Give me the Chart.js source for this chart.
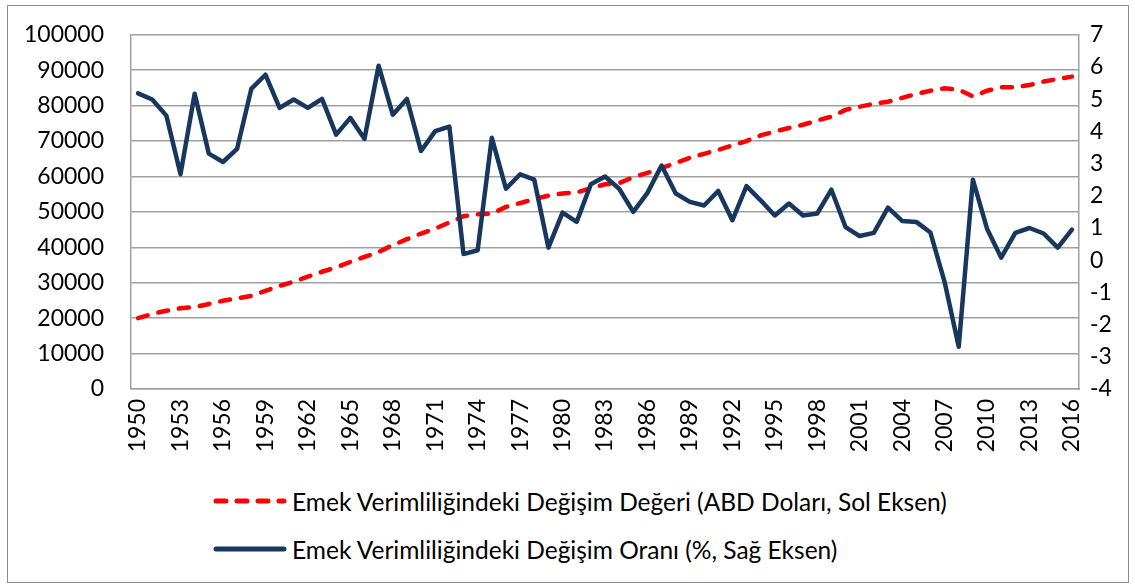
<!DOCTYPE html>
<html>
<head>
<meta charset="utf-8">
<script src="https://cdn.jsdelivr.net/npm/chart.js@4"></script>
<style>
  html, body { margin: 0; padding: 0; background: #fff; }
  #wrap { position: relative; width: 1135px; height: 587px; font-family: Lato, sans-serif; overflow: hidden; }
  #frame { position: absolute; left: 7px; top: 5px; width: 1120px; height: 576px; border: 1px solid #8c8c8c; }
  #chart { position: absolute; left: 0; top: -6px; }
  .leg { position: absolute; left: 213px; height: 30px; display: flex; align-items: center; font-size: 24.5px; color: #000; white-space: nowrap; }
  .leg svg { margin-right: 5px; }
</style>
</head>
<body>
<div id="wrap">
  <div id="frame"></div>
  <canvas id="chart" width="1135" height="476"></canvas>
  <div class="leg" style="top:486px">
    <svg width="74" height="10"><line x1="3" y1="5" x2="71" y2="5" stroke="#ff0000" stroke-width="5" stroke-linecap="round" stroke-dasharray="10 11"/></svg>
    <span>Emek Verimliliğindeki Değişim Değeri (ABD Doları, Sol Eksen)</span>
  </div>
  <div class="leg" style="top:534px">
    <svg width="74" height="10"><line x1="3" y1="5" x2="71" y2="5" stroke="#17375e" stroke-width="5" stroke-linecap="round"/></svg>
    <span>Emek Verimliliğindeki Değişim Oranı (%, Sağ Eksen)</span>
  </div>
</div>
<script>
const years = [];
for (let y = 1950; y <= 2016; y++) years.push(String(y));

// Emek verimliliğindeki değişim değeri (ABD doları, sol eksen)
const levelUSD = [
  20000, 21200, 22100, 22800, 23100, 24000, 24900, 25600, 26300, 27700,
  29100, 30300, 31700, 33100, 34300, 35900, 37300, 38700, 40600, 42300,
  43900, 45300, 47000, 48800, 49300, 49500, 51400, 52500, 53600, 54600,
  55200, 55500, 56700, 57800, 58100, 59800, 61000, 62400, 63800, 65300,
  66400, 67500, 68800, 70000, 71600, 72700, 73700, 74600, 75800, 76900,
  78800, 79700, 80500, 81100, 82200, 83300, 84200, 84900, 84500, 82600,
  84200, 85200, 85200, 85800, 86800, 87500, 88200
];

// Emek verimliliğindeki değişim oranı (%, sağ eksen)
const ratePct = [
  5.18, 4.99, 4.49, 2.67, 5.17, 3.31, 3.05, 3.46, 5.32, 5.76,
  4.73, 4.99, 4.73, 5.01, 3.90, 4.42, 3.77, 6.04, 4.52, 5.01,
  3.39, 4.01, 4.15, 0.19, 0.31, 3.80, 2.22, 2.67, 2.50, 0.39,
  1.48, 1.19, 2.36, 2.60, 2.22, 1.50, 2.09, 2.94, 2.07, 1.81,
  1.70, 2.15, 1.24, 2.30, 1.86, 1.39, 1.76, 1.39, 1.45, 2.19,
  1.03, 0.75, 0.85, 1.63, 1.22, 1.19, 0.86, -0.67, -2.69, 2.50,
  0.98, 0.08, 0.85, 1.00, 0.83, 0.39, 0.95
];

const tickFont = { family: 'Lato', size: 23 };
const gridColor = '#a0a0a0';

new Chart(document.getElementById('chart'), {
  type: 'line',
  data: {
    labels: years,
    datasets: [
      { label: 'Emek Verimliliğindeki Değişim Değeri (ABD Doları, Sol Eksen)', data: levelUSD, yAxisID: 'yL',
        borderColor: '#ff0000', borderWidth: 4.5, borderDash: [10, 11], borderCapStyle: 'round',
        pointRadius: 0, tension: 0, order: 2 },
      { label: 'Emek Verimliliğindeki Değişim Oranı (%, Sağ Eksen)', data: ratePct, yAxisID: 'yR',
        borderColor: '#17375e', borderWidth: 4.5, borderCapStyle: 'round', borderJoinStyle: 'round',
        pointRadius: 0, tension: 0, order: 1 }
    ]
  },
  options: {
    responsive: false,
    animation: false,
    layout: { padding: { left: 7, top: 28, right: 0, bottom: 0 } },
    plugins: { legend: { display: false }, tooltip: { enabled: false } },
    scales: {
      x: {
        offset: true,
        grid: { display: false, drawTicks: false },
        border: { display: true, color: gridColor, width: 1.5 },
        ticks: {
          autoSkip: false, minRotation: 90, maxRotation: 90, padding: 10,
          color: '#000', font: tickFont,
          callback: (v, i) => (i % 3 === 0 ? years[i] : '')
        },
        afterFit: (s) => { s.height = 81; }
      },
      yL: {
        position: 'left', min: 0, max: 100000,
        grid: { color: gridColor, lineWidth: 1.5, drawTicks: false },
        border: { display: true, color: gridColor, width: 1.5 },
        ticks: { stepSize: 10000, padding: 27, color: '#000', font: tickFont, callback: (v) => String(v) },
        afterFit: (s) => { s.width = 124; }
      },
      yR: {
        position: 'right', min: -4, max: 7,
        grid: { display: false, drawTicks: false },
        border: { display: true, color: gridColor, width: 1.5 },
        ticks: { stepSize: 1, padding: 11, color: '#000', font: tickFont, callback: (v) => String(v) },
        afterFit: (s) => { s.width = 56; }
      }
    }
  }
});
</script>
</body>
</html>
